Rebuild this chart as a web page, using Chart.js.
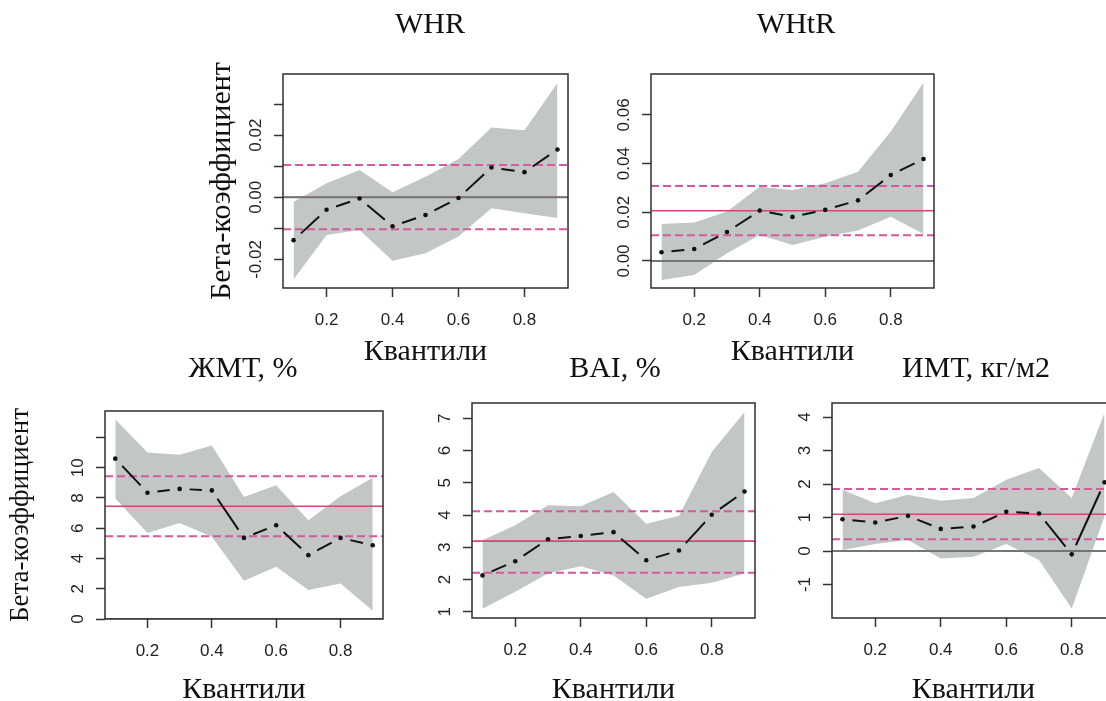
<!DOCTYPE html>
<html><head><meta charset="utf-8">
<script src="https://cdn.jsdelivr.net/npm/chart.js@4.4.0/dist/chart.umd.min.js"></script>
<style>
html,body{margin:0;padding:0;background:#fff;overflow:hidden;width:1106px;height:701px;position:relative}
canvas{position:absolute}
</style></head><body>
<canvas id="c1"></canvas><canvas id="c2"></canvas><canvas id="c3"></canvas><canvas id="c4"></canvas><canvas id="c5"></canvas>
<script>
// ---------- data ----------
const quantiles = [0.1, 0.2, 0.3, 0.4, 0.5, 0.6, 0.7, 0.8, 0.9];
const xTickValues = [0.2, 0.4, 0.6, 0.8];
const xTickLabels = ['0.2', '0.4', '0.6', '0.8'];

const whrCoef  = [-0.0138, -0.0040, -0.0004, -0.0093, -0.0057, -0.0002, 0.0096, 0.0081, 0.0154];
const whrUpper = [-0.0014, 0.0045, 0.0088, 0.0016, 0.0066, 0.0123, 0.0225, 0.0216, 0.0368];
const whrLower = [-0.0265, -0.0121, -0.0105, -0.0204, -0.0180, -0.0126, -0.0035, -0.0051, -0.0067];
const whrOls = [0.0, -0.0103, 0.0104];
const whrYTicks = [-0.02, -0.01, 0, 0.01, 0.02, 0.03];
const whrYLabels = ['-0.02', '', '0.00', '', '0.02', ''];

const whtrCoef  = [0.0036, 0.0049, 0.0119, 0.0207, 0.0181, 0.0210, 0.0249, 0.0353, 0.0419];
const whtrUpper = [0.0152, 0.0158, 0.0203, 0.0305, 0.0292, 0.0319, 0.0367, 0.0532, 0.0733];
const whtrLower = [-0.0078, -0.0058, 0.0032, 0.0107, 0.0066, 0.0100, 0.0125, 0.0182, 0.0111];
const whtrOls = [0.0206, 0.0106, 0.0308];
const whtrYTicks = [0, 0.02, 0.04, 0.06];
const whtrYLabels = ['0.00', '0.02', '0.04', '0.06'];

const fatCoef  = [10.6, 8.35, 8.6, 8.5, 5.36, 6.2, 4.22, 5.36, 4.88];
const fatUpper = [13.2, 11.0, 10.86, 11.47, 8.07, 8.84, 6.53, 8.11, 9.34];
const fatLower = [7.96, 5.69, 6.35, 5.43, 2.53, 3.45, 1.91, 2.35, 0.55];
const fatOls = [7.45, 5.47, 9.43];
const fatYTicks = [0, 2, 4, 6, 8, 10, 12];
const fatYLabels = ['0', '2', '4', '6', '8', '10', ''];

const baiCoef  = [2.13, 2.57, 3.25, 3.35, 3.47, 2.60, 2.90, 4.01, 4.73];
const baiUpper = [3.22, 3.68, 4.30, 4.27, 4.71, 3.73, 3.98, 5.95, 7.19];
const baiLower = [1.10, 1.62, 2.19, 2.41, 2.13, 1.41, 1.77, 1.90, 2.19];
const baiOls = [3.19, 2.21, 4.12];
const baiYTicks = [1, 2, 3, 4, 5, 6, 7];
const baiYLabels = ['1', '2', '3', '4', '5', '6', '7'];

const bmiCoef  = [0.95, 0.85, 1.05, 0.66, 0.73, 1.17, 1.12, -0.10, 2.05];
const bmiUpper = [1.83, 1.43, 1.68, 1.50, 1.58, 2.13, 2.48, 1.58, 4.13];
const bmiLower = [0.03, 0.21, 0.33, -0.22, -0.17, 0.21, -0.27, -1.72, 1.03];
const bmiOls = [1.10, 0.35, 1.85];
const bmiYTicks = [-1, 0, 1, 2, 3, 4];
const bmiYLabels = ['-1', '0', '1', '2', '3', '4'];

const titles = ['WHR', 'WHtR', 'ЖМТ, %', 'BAI, %', 'ИМТ, кг/м2'];
const yAxisTitle = 'Бета-коэффициент';
const xAxisTitle = 'Квантили';

// ---------- layout / style ----------
const X_MIN = 0.068, X_MAX = 0.932;
const panels = [
  {id:'c1', title:titles[0], coef:whrCoef, up:whrUpper, lo:whrLower, ols:whrOls, yt:whrYTicks, yl:whrYLabels, ymin:-0.0292, ymax:0.0397,
   canvasLeft:204, canvasTop:0, area:{l:283,t:74,r:568,b:288}, titleX:430, titleY:25, xTitleY:352, yTitle:true, yTitleSize:30},
  {id:'c2', title:titles[1], coef:whtrCoef, up:whtrUpper, lo:whtrLower, ols:whtrOls, yt:whtrYTicks, yl:whtrYLabels, ymin:-0.0111, ymax:0.0768,
   canvasLeft:606, canvasTop:0, area:{l:651,t:74,r:934,b:288}, titleX:796, titleY:25, xTitleY:352, yTitle:false, yTitleSize:30},
  {id:'c3', title:titles[2], coef:fatCoef, up:fatUpper, lo:fatLower, ols:fatOls, yt:fatYTicks, yl:fatYLabels, ymin:0.0, ymax:13.75,
   canvasLeft:5, canvasTop:330, area:{l:105,t:411,r:383,b:619}, titleX:243, titleY:369, xTitleY:690, yTitle:true, yTitleSize:27},
  {id:'c4', title:titles[3], coef:baiCoef, up:baiUpper, lo:baiLower, ols:baiOls, yt:baiYTicks, yl:baiYLabels, ymin:0.81, ymax:7.47,
   canvasLeft:427, canvasTop:330, area:{l:472,t:403,r:755,b:618}, titleX:615, titleY:369, xTitleY:690, yTitle:false, yTitleSize:30},
  {id:'c5', title:titles[4], coef:bmiCoef, up:bmiUpper, lo:bmiLower, ols:bmiOls, yt:bmiYTicks, yl:bmiYLabels, ymin:-2.0, ymax:4.42,
   canvasLeft:787, canvasTop:330, area:{l:832,t:403,r:1115,b:618}, titleX:976, titleY:369, xTitleY:690, yTitle:false, yTitleSize:30}
];

const SERIF = '"Liberation Serif", "Times New Roman", serif';
const SANS = '"Liberation Sans", Arial, sans-serif';
const TICK_FONT = 17;
const TITLE_FONT = 30;
const TL = 9;
const Y_LABEL_OFF = 27;
const BAND = '#c2c7c5';
const PINK_DASH = '#d35a9c';
const PINK_SOLID = '#d8466f';
const ZERO_LINE = '#727776';
const GAP = 10;

const measureCtx = document.createElement('canvas').getContext('2d');
measureCtx.font = `normal ${TICK_FONT}px ${SANS}`;

const boxPlugin = {
  id: 'box',
  afterDatasetsDraw(chart) {
    const {ctx, chartArea: a} = chart;
    ctx.save();
    ctx.strokeStyle = '#2e2e2e';
    ctx.lineWidth = 1.5;
    ctx.strokeRect(a.left, a.top, a.right - a.left, a.bottom - a.top);
    ctx.restore();
  }
};

// line with gaps around the points (R type = "b")
function gapDash(ctx) {
  const chart = ctx.chart;
  const ds = chart.data.datasets[ctx.datasetIndex].data;
  const xs = chart.scales.x, ys = chart.scales.y;
  const a = ds[ctx.p0DataIndex], b = ds[ctx.p1DataIndex];
  const dx = xs.getPixelForValue(b.x) - xs.getPixelForValue(a.x);
  const dy = ys.getPixelForValue(b.y) - ys.getPixelForValue(a.y);
  const L = Math.hypot(dx, dy);
  if (!isFinite(L)) return [];
  if (L <= 2 * GAP + 2) return [0, L + 50];
  return [0.01, GAP, L - 2 * GAP, GAP + 50];
}

function hline(v, color, dash, width, order) {
  return {
    data: [{x: X_MIN, y: v}, {x: X_MAX, y: v}],
    borderColor: color, borderWidth: width, borderDash: dash,
    pointRadius: 0, fill: false, order: order
  };
}

panels.forEach(p => {
  const cv = document.getElementById(p.id);
  const a = p.area;
  const yw = a.l - p.canvasLeft;
  const areaRight = a.r - p.canvasLeft;
  const rw = Math.max(0, 2 * (p.titleX - p.canvasLeft) - areaRight); // spacer so the title centre lands where wanted
  const cw = areaRight + rw;
  const xh = p.xTitleY - a.b + TITLE_FONT * 0.6;
  const ch = a.b - p.canvasTop + xh;
  const tPadTop = p.titleY - p.canvasTop - TITLE_FONT * 0.6;
  const tPadBottom = (a.t - p.canvasTop) - tPadTop - TITLE_FONT * 1.2;
  cv.width = cw; cv.height = ch;
  cv.style.left = p.canvasLeft + 'px'; cv.style.top = p.canvasTop + 'px';
  cv.style.width = cw + 'px'; cv.style.height = ch + 'px';

  let widest = 0;
  p.yl.forEach(s => { widest = Math.max(widest, measureCtx.measureText(s).width); });
  const yPad = Y_LABEL_OFF - TL - widest / 2;

  const pts = arr => quantiles.map((q, i) => ({x: q, y: arr[i]}));

  new Chart(cv, {
    type: 'line',
    data: {
      datasets: [
        {data: pts(p.coef), borderColor: '#111', borderWidth: 2, pointRadius: 2.3,
         pointBackgroundColor: '#111', pointBorderWidth: 0, fill: false, order: 0,
         segment: {borderDash: gapDash}},
        hline(0, ZERO_LINE, [], 2, 1),
        hline(p.ols[0], PINK_SOLID, [], 1.6, 2),
        hline(p.ols[1], PINK_DASH, [8, 4], 2, 2),
        hline(p.ols[2], PINK_DASH, [8, 4], 2, 2),
        {data: pts(p.up), borderWidth: 0, pointRadius: 0, fill: '+1', backgroundColor: BAND, order: 5},
        {data: pts(p.lo), borderWidth: 0, pointRadius: 0, fill: false, order: 6}
      ]
    },
    options: {
      responsive: false, animation: false, devicePixelRatio: 1, events: [],
      layout: {padding: 0},
      elements: {line: {tension: 0}},
      plugins: {
        legend: {display: false}, tooltip: {enabled: false},
        filler: {drawTime: 'beforeDatasetsDraw'},
        title: {display: true, text: p.title, fullSize: true, color: '#111',
                font: {family: SERIF, size: TITLE_FONT, weight: 'normal', lineHeight: 1.2},
                padding: {top: tPadTop, bottom: tPadBottom}}
      },
      scales: {
        x: {
          type: 'linear', min: X_MIN, max: X_MAX, bounds: 'data',
          afterBuildTicks: s => { s.ticks = xTickValues.map(v => ({value: v})); },
          afterFit: s => { s.height = xh; },
          grid: {drawOnChartArea: false, drawTicks: true, tickLength: TL, tickColor: '#333', tickWidth: 1.5},
          border: {display: false},
          ticks: {autoSkip: false, maxRotation: 0, minRotation: 0, padding: 13, color: '#222',
                  font: {family: SANS, size: TICK_FONT},
                  callback: (v, i) => xTickLabels[i]},
          title: {display: true, text: xAxisTitle, color: '#111', padding: 0,
                  font: {family: SERIF, size: TITLE_FONT, weight: 'normal', lineHeight: 1.2}}
        },
        y: {
          type: 'linear', position: 'left', min: p.ymin, max: p.ymax, bounds: 'data',
          afterBuildTicks: s => { s.ticks = p.yt.map(v => ({value: v})); },
          afterFit: s => { s.width = yw; },
          grid: {drawOnChartArea: false, drawTicks: true, tickLength: TL, tickColor: '#333', tickWidth: 1.5},
          border: {display: false},
          ticks: {autoSkip: false, minRotation: 90, maxRotation: 90, crossAlign: 'center', padding: yPad,
                  color: '#222', font: {family: SANS, size: TICK_FONT},
                  callback: (v, i) => p.yl[i]},
          title: {display: p.yTitle, text: yAxisTitle, color: '#111', padding: 0,
                  font: {family: SERIF, size: p.yTitleSize, weight: 'normal', lineHeight: 1.2}}
        },
        spacer: {
          type: 'linear', position: 'right', display: true,
          afterFit: s => { s.width = rw; },
          grid: {display: false}, border: {display: false},
          ticks: {display: false}, title: {display: false}
        }
      }
    },
    plugins: [boxPlugin]
  });
});
</script>
</body></html>
